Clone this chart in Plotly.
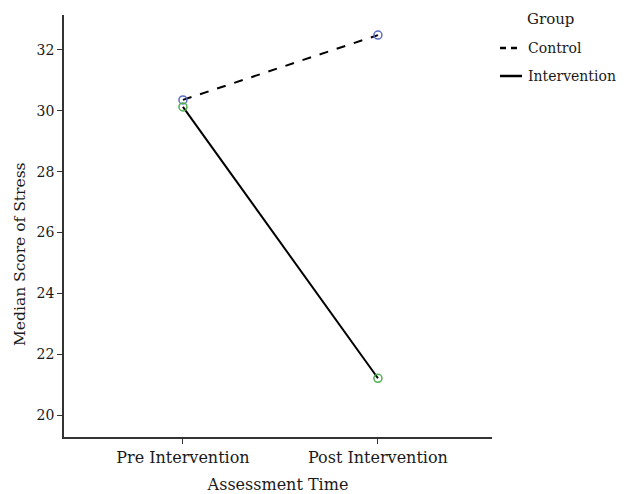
import plotly.graph_objects as go

times = ["Pre Intervention", "Post Intervention"]
control = [30.36, 32.49]
intervention = [30.13, 21.21]
y_ticks = [20, 22, 24, 26, 28, 30, 32]
groups = ["Control", "Intervention"]

FONT = "DejaVu Serif"
L, R, T, B = 64, 135, 15, 57
W, H = 627, 494
PW, PH = W - L - R, H - T - B

def px(xp):
    return (xp - L) / PW

def py(yp):
    return (H - B - yp) / PH

fig = go.Figure()

fig.add_trace(go.Scatter(
    x=times, y=control, mode="lines+markers", name=groups[0],
    line=dict(color="black", width=2, dash="dash"),
    marker=dict(symbol="circle-open", size=8, color="#5b6fc4", line=dict(width=1.5, color="#5b6fc4")),
    showlegend=False,
))
fig.add_trace(go.Scatter(
    x=times, y=intervention, mode="lines+markers", name=groups[1],
    line=dict(color="black", width=2),
    marker=dict(symbol="circle-open", size=8, color="#4caf50", line=dict(width=1.5, color="#4caf50")),
    showlegend=False,
))

# manual legend
fig.add_annotation(x=px(550), y=py(19), xref="paper", yref="paper", text="Group",
                   showarrow=False, xanchor="center", yanchor="middle", font=dict(size=15))
for i, (g, dash) in enumerate(zip(groups, ["dash", "solid"])):
    yy = py(48 + 28 * i)
    fig.add_shape(type="line", xref="paper", yref="paper", x0=px(500), x1=px(522), y0=yy, y1=yy,
                  line=dict(color="black", width=2.5, dash="6px,5px" if dash == "dash" else "solid"))
    fig.add_annotation(x=px(526), y=yy, xref="paper", yref="paper", text=g, showarrow=False,
                       xanchor="left", yanchor="middle", font=dict(size=14))

# y axis title
fig.add_annotation(x=px(20), y=py(254), xref="paper", yref="paper", text="Median Score of Stress",
                   textangle=-90, showarrow=False, xanchor="center", yanchor="middle",
                   font=dict(size=15.5))

fig.update_layout(
    width=W, height=H,
    margin=dict(l=L, r=R, t=T, b=B, autoexpand=False),
    plot_bgcolor="white", paper_bgcolor="white",
    font=dict(family=FONT, size=13, color="#1a1a1a"),
    showlegend=False,
    xaxis=dict(
        type="category", range=[-0.61, 1.585], automargin=False,
        showline=True, linecolor="#333", linewidth=1.5,
        ticks="outside", ticklen=5, tickcolor="#333",
        showgrid=False, zeroline=False,
        tickfont=dict(size=16),
        title=dict(text="Assessment Time", font=dict(size=16), standoff=16),
    ),
    yaxis=dict(
        range=[19.28, 33.15], tickvals=y_ticks, automargin=False,
        showline=True, linecolor="#333", linewidth=1.5,
        ticks="outside", ticklen=5, tickcolor="#333",
        showgrid=False, zeroline=False,
        tickfont=dict(size=14),
    ),
)

fig.write_html("out.html", config={"displayModeBar": False},
               post_script="document.body.style.margin='0';")
